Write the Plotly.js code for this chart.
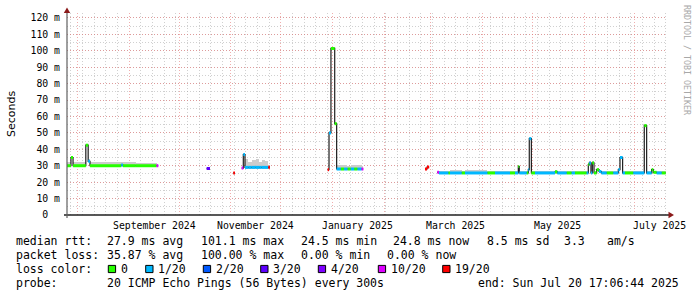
<!DOCTYPE html>
<html><head><meta charset="utf-8">
<script src="https://cdn.plot.ly/plotly-3.0.1.min.js"></script>
<style>html,body{margin:0;padding:0;background:#fff;} #chart{width:697px;height:297px;}</style>
</head><body><div id="chart"></div>
<script>
// ---------------- data ----------------
const rangeStart = '2024-07-25 17:06:44';
const rangeEnd   = '2025-07-20 17:06:44';

const stepStart = [
 '2024-07-25 17:06','2024-07-28 02:00','2024-07-29 08:00','2024-08-06 00:00','2024-08-07 10:00',
 '2024-08-08 12:00','2024-08-27 06:00','2024-08-28 06:00','2024-09-05 00:00','2024-09-17 10:00',
 '2024-09-18 12:00',
 '2024-10-17 12:00','2024-10-19 12:00','2024-11-02 12:00','2024-11-03 12:00',
 '2024-11-07 12:00','2024-11-08 12:00','2024-11-09 12:00','2024-11-11 12:00','2024-11-13 12:00',
 '2024-11-16 00:00','2024-11-18 00:00','2024-11-19 12:00','2024-11-21 12:00','2024-11-23 12:00',
 '2024-11-24 12:00',
 '2024-12-29 02:00','2024-12-29 22:00','2024-12-31 02:00','2025-01-02 08:00','2025-01-03 12:00',
 '2025-01-06 00:00','2025-01-08 00:00','2025-01-10 00:00','2025-01-12 00:00','2025-01-14 00:00',
 '2025-01-16 00:00','2025-01-18 12:00','2025-01-19 12:00',
 '2025-02-25 12:00','2025-02-26 18:00','2025-02-28 00:00',
 '2025-03-04 22:00','2025-03-05 22:00','2025-03-11 12:00','2025-03-12 12:00','2025-03-19 12:00',
 '2025-03-21 12:00','2025-04-03 22:00','2025-04-08 12:00','2025-04-17 12:00','2025-04-20 12:00',
 '2025-04-22 12:00','2025-04-23 02:00','2025-04-27 12:00','2025-04-28 12:00','2025-04-29 02:00',
 '2025-04-30 08:00','2025-05-02 12:00','2025-05-14 12:00','2025-05-15 22:00','2025-05-21 12:00',
 '2025-05-24 12:00','2025-05-26 12:00','2025-06-02 12:00','2025-06-03 12:00','2025-06-04 02:00',
 '2025-06-05 02:00','2025-06-05 22:00','2025-06-06 22:00','2025-06-08 12:00','2025-06-09 22:00',
 '2025-06-11 08:00','2025-06-14 12:00','2025-06-18 12:00','2025-06-21 12:00','2025-06-22 12:00',
 '2025-06-24 02:00','2025-06-25 12:00','2025-06-30 12:00','2025-07-07 02:00','2025-07-08 12:00',
 '2025-07-11 12:00','2025-07-12 12:00','2025-07-14 12:00','2025-07-17 12:00','2025-07-19 22:00'
];
const medianMs = [
 30.0,35.0,30.0,42.5,32.7, 30.0,30.4,30.0,30.0,30.0, null,
 28.3,null,25.6,null,
 28.6,36.8,29.0,29.0,29.0, 29.0,29.0,29.0,29.0,29.0, null,
 27.6,50.0,101.4,55.6,28.0, 28.0,28.0,28.0,28.0,28.0, 28.0,28.0,null,
 28.0,29.2,null,
 26.0,25.6,25.6,25.6,25.6, 25.6,25.6,25.6,25.6,25.6,
 29.5,25.6,25.6,27.6,46.5, 25.6,25.6,26.3,25.6,25.6,
 25.6,25.6,25.6,30.7,31.7, 25.6,31.7,25.6,27.6,26.5,
 25.6,25.6,25.6,27.6,35.0, 25.6,25.6,25.6,54.4,25.6,
 27.6,26.0,25.6,25.6,null
];
const lossOf20 = [
 0,0,0,0,1, 0,1,0,0,10, null,
 3,null,19,null,
 10,1,1,1,1, 1,1,1,1,19, null,
 19,1,0,0,1, 0,1,0,1,0, 1,10,null,
 19,19,null,
 10,1,0,1,0, 1,0,1,0,1,
 0,1,0,1,1, 0,1,0,1,0,
 1,0,1,0,1, 1,0,0,0,1,
 1,0,1,1,1, 1,0,1,0,1,
 0,0,1,0,null
];
const smokeTopMs = [
 32.2,36.0,32.0,43.5,34.0, 32.5,32.5,32.5,31.6,31.2, null,
 29.0,null,26.2,null,
 29.5,37.6,34.3,32.3,33.2, 33.8,32.3,33.5,32.8,30.2, null,
 28.3,51.0,102.3,56.4,30.3, 30.3,30.3,30.0,30.3,30.3, 30.3,29.5,null,
 28.6,29.8,null,
 26.8,26.8,27.0,27.1,26.7, 27.1,26.7,26.7,27.0,26.7,
 30.3,26.7,26.7,28.4,47.3, 26.7,26.7,27.2,26.7,26.7,
 26.7,26.7,26.7,31.5,32.8, 26.7,32.8,26.9,28.4,27.4,
 26.7,26.7,26.7,28.4,35.8, 26.7,26.7,26.9,55.3,26.9,
 28.6,27.0,26.7,26.7,null
];

const lossLevels = [0, 1, 2, 3, 4, 10, 19];
const lossLabels = ['0', '1/20', '2/20', '3/20', '4/20', '10/20', '19/20'];
const lossColors = ['#26ff00', '#00b8ff', '#0059ff', '#5e00ff', '#7e00ff', '#dd00ff', '#ff0000'];

const monthLabelDates = ['2024-09-16', '2024-11-16', '2025-01-16', '2025-03-16', '2025-05-16', '2025-07-16'];
const monthLabels = ['September 2024', 'November 2024', 'January 2025', 'March 2025', 'May 2025', 'July 2025'];

const yTickVals = [0, 10, 20, 30, 40, 50, 60, 70, 80, 90, 100, 110, 120];
const yTickText = ['0\u00a0\u00a0', '10 m', '20 m', '30 m', '40 m', '50 m', '60 m', '70 m', '80 m', '90 m', '100 m', '110 m', '120 m'];

const rttStats = ['median rtt:', '27.9 ms avg', '101.1 ms max', '24.5 ms min', '24.8 ms now', '8.5 ms sd', '3.3', 'am/s'];
const lossStats = ['packet loss:', '35.87 % avg', '100.00 % max', '0.00 % min', '0.00 % now'];
const probeText = ['probe:', '20 ICMP Echo Pings (56 Bytes) every 300s', 'end: Sun Jul 20 17:06:44 2025'];

// ---------------- build ----------------
const W = 697, H = 297, L = 67, R = 30, T = 13, B = 82;
const PW = W - L - R, PH = H - T - B;
const px = x => (x - L) / PW;
const py = y => (H - B - y) / PH;
const tms = s => new Date(s.replace(' ', 'T') + 'Z').getTime();

const sx = [], sw = [], sBase = [], sH = [];
for (let i = 0; i < stepStart.length - 1; i++) {
  if (medianMs[i] == null) continue;
  sx.push(stepStart[i]);
  sw.push(tms(stepStart[i + 1]) - tms(stepStart[i]));
  sBase.push(medianMs[i] - 0.7);
  sH.push(smokeTopMs[i] - medianMs[i] + 0.7);
}
const lx = [], ly = [];
for (let i = 0; i < stepStart.length; i++) {
  if (medianMs[i] == null) { lx.push(stepStart[i]); ly.push(null); continue; }
  lx.push(stepStart[i]); ly.push(medianMs[i]);
  if (i + 1 < stepStart.length && medianMs[i + 1] == null) { lx.push(stepStart[i + 1]); ly.push(medianMs[i]); }
}
const bandTraces = lossLevels.map((lev, k) => {
  const x = [], y = [];
  for (let i = 0; i < stepStart.length - 1; i++) {
    if (medianMs[i] == null || lossOf20[i] !== lev) continue;
    x.push(stepStart[i], stepStart[i + 1], null);
    y.push(medianMs[i], medianMs[i], null);
  }
  return { type: 'scatter', mode: 'lines', x: x, y: y, line: { color: lossColors[k], width: 3 },
    connectgaps: false, hoverinfo: 'skip', showlegend: false };
});

const traces = [
  { type: 'bar', x: sx, y: sH, base: sBase, width: sw, offset: 0,
    marker: { color: '#cccccc', line: { width: 0 } }, hoverinfo: 'skip', showlegend: false },
  { type: 'scatter', mode: 'lines', x: lx, y: ly, line: { color: '#202020', width: 1.2, shape: 'hv' },
    connectgaps: false, hoverinfo: 'skip', showlegend: false }
].concat(bandTraces);

const mono = 'DejaVu Sans Mono';
const ann = [];
const lf = { family: mono, size: 11.5, color: '#000' };
function txt(text, x, y, font, extra) {
  ann.push(Object.assign({ text: text, xref: 'paper', yref: 'paper', x: px(x), y: py(y),
    xanchor: 'left', yanchor: 'middle', showarrow: false, font: font, borderpad: 0, borderwidth: 0 }, extra || {}));
}
monthLabelDates.forEach((d, i) => ann.push({ text: monthLabels[i], xref: 'x', yref: 'paper', x: d, y: py(225),
  xanchor: 'center', yanchor: 'middle', showarrow: false, font: { family: mono, size: 9.8, color: '#000' } }));
const rttX = [16, 107.3, 201, 301, 393.3, 486.7, 564, 606.7];
rttStats.forEach((s, i) => txt(s, rttX[i], 241, lf));
const lossX = [16, 107.3, 201, 301, 386.7];
lossStats.forEach((s, i) => txt(s, lossX[i], 255, lf));
txt('loss color:', 16, 269, lf);
const sqX = [108.3, 145.7, 203.3, 260.7, 318.3, 378.3, 442.7];
const shapes = [];
lossLabels.forEach((s, i) => {
  txt(s, sqX[i] + 12.3, 269, lf);
  shapes.push({ type: 'rect', xref: 'paper', yref: 'paper', x0: px(sqX[i]), x1: px(sqX[i] + 7.3),
    y0: py(272.6), y1: py(265.4), fillcolor: lossColors[i], line: { color: '#000', width: 1 } });
});
txt(probeText[0], 16, 283, lf);
txt(probeText[1], 107.3, 283, lf);
txt(probeText[2], 478.3, 283, lf);
ann.push({ text: 'Seconds', xref: 'paper', yref: 'paper', x: px(11), y: py(114), textangle: -90,
  xanchor: 'center', yanchor: 'middle', showarrow: false, font: { family: 'DejaVu Sans', size: 11, color: '#000' } });
ann.push({ text: 'RRDTOOL / TOBI OETIKER', xref: 'paper', yref: 'paper', x: px(687), y: py(60), textangle: 90,
  xanchor: 'center', yanchor: 'middle', showarrow: false, font: { family: mono, size: 8.3, color: '#a8a8a8' } });

shapes.push({ type: 'line', xref: 'paper', yref: 'paper', x0: px(64), x1: px(670), y0: py(215), y1: py(215),
  line: { color: '#202020', width: 1.5 } });
shapes.push({ type: 'line', xref: 'paper', yref: 'paper', x0: px(67), x1: px(67), y0: py(218), y1: py(11),
  line: { color: '#606060', width: 1.2 } });
shapes.push({ type: 'path', xref: 'paper', yref: 'paper', fillcolor: '#8b1a1a', line: { width: 0 },
  path: `M ${px(668.5)} ${py(211.8)} L ${px(674)} ${py(215)} L ${px(668.5)} ${py(218.2)} Z` });
shapes.push({ type: 'path', xref: 'paper', yref: 'paper', fillcolor: '#8b1a1a', line: { width: 0 },
  path: `M ${px(63.8)} ${py(13)} L ${px(67)} ${py(7.5)} L ${px(70.2)} ${py(13)} Z` });

const layout = {
  width: W, height: H, margin: { l: L, r: R, t: T, b: B, pad: 0 },
  paper_bgcolor: '#fff', plot_bgcolor: '#fff', barmode: 'overlay', bargap: 0,
  showlegend: false, font: { family: mono, size: 10, color: '#000' },
  xaxis: { type: 'date', range: [rangeStart, rangeEnd], tickmode: 'linear', tick0: '2024-08-01', dtick: 'M1',
    showticklabels: false, ticks: '', showgrid: true, gridcolor: 'rgba(230,120,120,0.6)', gridwidth: 1, griddash: '1px,2px',
    minor: { tickmode: 'linear', tick0: '2024-07-28', dtick: 7 * 86400000, showgrid: true, gridcolor: 'rgba(150,150,150,0.45)', gridwidth: 1, griddash: '1px,2px', ticks: '' },
    zeroline: false, showline: false, fixedrange: true },
  yaxis: { range: [0, 123], tickmode: 'array', tickvals: yTickVals, ticktext: yTickText,
    tickfont: { family: mono, size: 9.8, color: '#000' }, ticks: '', ticklabelstandoff: 6,
    showgrid: true, gridcolor: 'rgba(230,120,120,0.6)', gridwidth: 1, griddash: '1px,2px',
    minor: { tickmode: 'linear', tick0: 0, dtick: 5, showgrid: true, gridcolor: 'rgba(150,150,150,0.45)', gridwidth: 1, griddash: '1px,2px', ticks: '' },
    zeroline: false, showline: false, fixedrange: true },
  annotations: ann, shapes: shapes
};
Plotly.newPlot('chart', traces, layout, { staticPlot: true, displayModeBar: false });
</script></body></html>
